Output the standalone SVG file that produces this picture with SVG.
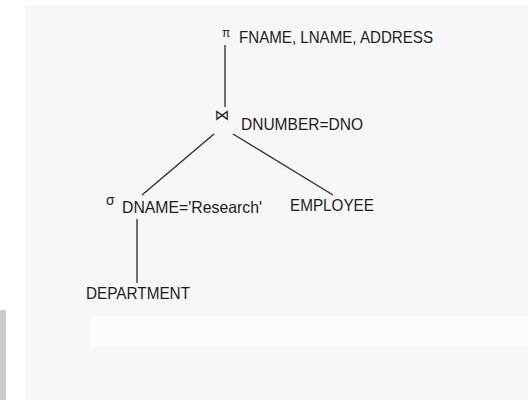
<svg xmlns="http://www.w3.org/2000/svg" width="528" height="400" viewBox="0 0 528 400">
  <style>
    .t { font-family: "Liberation Sans", Arial, sans-serif; font-size: 16.5px; fill: #1c1c1c; }
    .sym { font-family: "Liberation Sans", "DejaVu Sans", sans-serif; fill: #1c1c1c; }
    .edge { stroke: #2a2a2a; stroke-width: 1.3; fill: none; }
  </style>
  <rect x="0" y="0" width="528" height="400" fill="#ffffff"/>
  <rect x="25" y="5" width="503" height="395" fill="#f7f7f7"/>
  <rect x="90" y="316" width="438" height="30" fill="#fbfbfb"/>
  <rect x="0" y="310" width="6" height="90" fill="#cdcdcd"/>

  <g id="connectors">
    <line class="edge" x1="225" y1="45" x2="225" y2="107"/>
    <line class="edge" x1="214" y1="134" x2="142" y2="195"/>
    <line class="edge" x1="233" y1="134" x2="333" y2="195"/>
    <line class="edge" x1="137" y1="219" x2="137" y2="283"/>
  </g>

  <g id="project">
    <text class="sym" x="222" y="37" font-size="12">π</text>
    <text class="t" x="239" y="43" textLength="194" lengthAdjust="spacingAndGlyphs">FNAME, LNAME, ADDRESS</text>
  </g>

  <g id="join">
    <text class="sym" x="222" y="120" font-size="15" text-anchor="middle" style="font-family:'DejaVu Sans',sans-serif">⋈</text>
    <text class="t" x="241" y="130" textLength="122" lengthAdjust="spacingAndGlyphs">DNUMBER=DNO</text>
  </g>

  <g id="select">
    <text class="sym" x="106" y="205" font-size="14">σ</text>
    <text class="t" x="122" y="213" textLength="140" lengthAdjust="spacingAndGlyphs">DNAME='Research'</text>
  </g>

  <g id="employee">
    <text class="t" x="290" y="211" textLength="84" lengthAdjust="spacingAndGlyphs">EMPLOYEE</text>
  </g>

  <g id="department">
    <text class="t" x="86" y="299" textLength="104" lengthAdjust="spacingAndGlyphs">DEPARTMENT</text>
  </g>
</svg>
